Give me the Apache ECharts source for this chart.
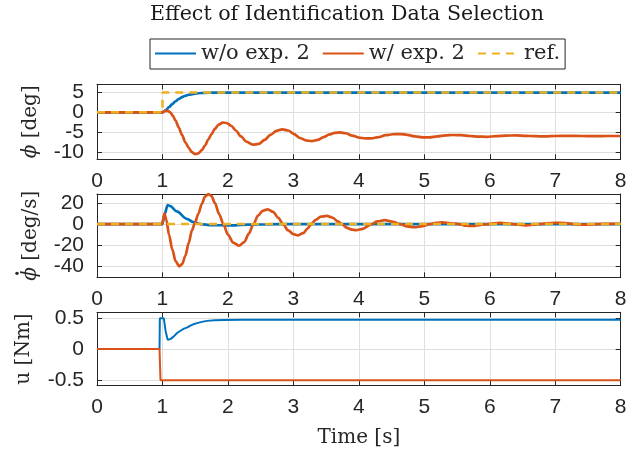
<!DOCTYPE html>
<html><head><meta charset="utf-8">
<script src="https://cdn.jsdelivr.net/npm/echarts@6/dist/echarts.min.js"></script>
<style>html,body{margin:0;padding:0;background:#fff}#c{width:631px;height:455px}</style>
</head><body><div id="c"></div>
<script>
// ---- data ----
const seriesNames = ['w/o exp. 2', 'w/ exp. 2', 'ref.'];
const xTickLabels = [0, 1, 2, 3, 4, 5, 6, 7, 8];
const phiTicks = [-10, -5, 0, 5];
const phiDotTicks = [-40, -20, 0, 20];
const uTicks = [-0.5, 0, 0.5];

// phi [deg]
const tPhiWo = [0, 1.0, 1.05, 1.1, 1.15, 1.2, 1.25, 1.3, 1.35, 1.4, 1.5, 1.6, 1.7, 1.8, 2.0, 8.0];
const phiWo  = [0, 0, 0.5, 1.3, 2.1, 2.8, 3.4, 3.85, 4.2, 4.45, 4.75, 4.9, 4.96, 4.99, 5.0, 5.0];
const tPhiW = [0, 1.0, 1.04, 1.08, 1.12, 1.16, 1.2, 1.25, 1.3, 1.35, 1.4, 1.45, 1.5, 1.55, 1.6, 1.65, 1.7, 1.75, 1.8, 1.86, 1.92, 1.98, 2.05, 2.12, 2.2, 2.28, 2.38, 2.47, 2.56, 2.65, 2.74, 2.83, 2.92, 3.01, 3.1, 3.19, 3.28, 3.37, 3.46, 3.55, 3.63, 3.71, 3.8, 3.9, 4.0, 4.1, 4.19, 4.3, 4.41, 4.52, 4.63, 4.74, 4.86, 4.98, 5.08, 5.2, 5.32, 5.44, 5.56, 5.7, 5.83, 5.95, 6.1, 6.25, 6.4, 6.55, 6.7, 6.85, 7.0, 7.2, 7.4, 7.6, 7.8, 8.0];
const phiW  = [0, 0, 0.35, 0.35, 0.0, -0.9, -2.1, -3.9, -5.8, -7.6, -9.0, -10.1, -10.6, -10.4, -9.6, -8.4, -6.9, -5.5, -4.2, -3.1, -2.6, -2.7, -3.4, -4.6, -6.1, -7.4, -8.2, -8.0, -7.0, -5.7, -4.7, -4.3, -4.6, -5.5, -6.5, -7.1, -7.3, -7.0, -6.3, -5.6, -5.2, -5.1, -5.3, -5.9, -6.4, -6.6, -6.6, -6.3, -5.8, -5.55, -5.5, -5.7, -6.1, -6.35, -6.35, -6.1, -5.85, -5.75, -5.8, -6.0, -6.15, -6.2, -6.05, -5.9, -5.85, -5.95, -6.05, -6.1, -6.0, -5.95, -6.0, -6.05, -6.0, -6.0];
const tPhiRef = [0, 1.0, 1.0, 8.0];
const phiRef  = [0, 0, 5, 5];

// phi dot [deg/s]
const tDotWo = [0, 1.0, 1.03, 1.08, 1.12, 1.22, 1.37, 1.47, 1.58, 1.75, 2.0, 2.3, 2.6, 3.0, 8.0];
const dotWo  = [0, 0, 9, 18, 17, 12, 5, 1.9, 0, -1.0, -1.2, -0.6, -0.2, 0, 0];
const tDotW = [0, 0.99, 1.01, 1.03, 1.06, 1.1, 1.15, 1.2, 1.255, 1.3, 1.35, 1.4, 1.45, 1.49, 1.55, 1.6, 1.65, 1.7, 1.75, 1.8, 1.87, 1.93, 2.0, 2.08, 2.17, 2.25, 2.32, 2.39, 2.46, 2.53, 2.61, 2.69, 2.77, 2.84, 2.92, 3.0, 3.07, 3.15, 3.22, 3.27, 3.34, 3.42, 3.51, 3.6, 3.68, 3.74, 3.82, 3.89, 3.96, 4.06, 4.18, 4.28, 4.4, 4.52, 4.63, 4.74, 4.85, 4.97, 5.08, 5.18, 5.28, 5.4, 5.53, 5.64, 5.74, 5.86, 5.98, 6.15, 6.35, 6.55, 6.75, 7.0, 7.15, 7.3, 7.45, 7.7, 8.0];
const dotW  = [0, 0, 4, 10, 4, -10, -24, -35, -40, -38, -30, -18, -6, 0, 10, 19, 26, 28.5, 26.5, 20, 9, 0, -10, -17.5, -20.5, -17, -9, 0, 8, 12.5, 14, 11.5, 6, 0, -6, -9.5, -10.6, -8.5, -4, 0, 4, 7, 7.7, 6, 2.5, 0, -3.5, -5.3, -5.8, -4.5, -0.5, 2.5, 3.8, 2.2, 0, -2.2, -3.0, -2.0, 0, 1.2, 1.6, 0.8, 0, -1.5, -1.8, -0.8, 0, 1.2, 0, -1.2, 0, 1.2, 1.0, 0, -0.6, 0.2, 0.3];
const tDotRef = [0, 8.0];
const dotRef  = [0, 0];

// u [Nm]
const tUWo = [0, 0.955, 0.96, 1.02, 1.05, 1.08, 1.12, 1.17, 1.22, 1.28, 1.33, 1.36, 1.38, 1.42, 1.47, 1.53, 1.6, 1.68, 1.8, 1.93, 2.2, 8.0];
const uWo  = [0, 0, 0.5, 0.5, 0.28, 0.15, 0.16, 0.2, 0.255, 0.3, 0.33, 0.345, 0.35, 0.375, 0.4, 0.42, 0.44, 0.456, 0.465, 0.47, 0.475, 0.475];
const tUW = [0, 0.955, 0.97, 8.0];
const uW  = [0, 0, -0.505, -0.505];

// ---- chart ----
const zip = (t, v) => t.map((x, i) => [x, v[i]]);
const C_AX = '#262626', C_GRID = '#dfdfdf';
const BLUE = '#0072BD', ORANGE = '#D95319', YELLOW = '#EDB120';
const tickFont = 'Liberation Sans';
const serif = 'DejaVu Serif';
const LBL = 20;

const grids = [
  {left: 97, right: 10.3, top: 84.3, height: 75},
  {left: 97, right: 10.3, top: 194, height: 83.3},
  {left: 97, right: 10.3, top: 312.3, height: 73.4}
];
const yRanges = [[-11.9, 7.1], [-50.4, 28.5], [-0.595, 0.595]];
const yTicks = [phiTicks, phiDotTicks, uTicks];

const xAxes = [], yAxes = [];
for (let g = 0; g < 3; g++) {
  xAxes.push({
    type: 'value', gridIndex: g, position: 'bottom', min: 0, max: 8, interval: 1,
    axisLine: {show: true, onZero: false, lineStyle: {color: C_AX, width: 1}},
    axisTick: {show: true, inside: true, length: 5, lineStyle: {color: C_AX}},
    axisLabel: {show: true, margin: 11, color: C_AX, fontSize: 21, fontFamily: tickFont,
      showMinLabel: true, showMaxLabel: true,
      formatter: v => String(xTickLabels[Math.round(v)])},
    splitLine: {show: true, lineStyle: {color: C_GRID, width: 1}},
    name: g === 2 ? 'Time [s]' : '', nameLocation: 'middle', nameGap: 42,
    nameTextStyle: {fontFamily: serif, fontSize: LBL, color: C_AX}
  });
}
for (let g = 0; g < 3; g++) {
  xAxes.push({
    type: 'value', gridIndex: g, position: 'top', min: 0, max: 8, interval: 1,
    axisLine: {show: true, onZero: false, lineStyle: {color: C_AX, width: 1}},
    axisTick: {show: true, inside: true, length: 5, lineStyle: {color: C_AX}},
    axisLabel: {show: false}, splitLine: {show: false}
  });
}
const yLabelStyle = {show: true, margin: 13, color: C_AX, fontSize: 21, fontFamily: tickFont,
  showMinLabel: true, showMaxLabel: true, formatter: v => String(v)};
// 0..2: main left axes (every other tick label), 3..5: right box axes, 6..8: left label-only axes
for (let g = 0; g < 3; g++) {
  yAxes.push({
    type: 'value', gridIndex: g, position: 'left', min: yRanges[g][0], max: yRanges[g][1],
    axisLine: {show: true, onZero: false, lineStyle: {color: C_AX, width: 1}},
    axisTick: {show: true, inside: true, length: 5, lineStyle: {color: C_AX}, customValues: yTicks[g]},
    axisLabel: Object.assign({}, yLabelStyle, {customValues: yTicks[g].filter((v, i) => i % 2 === 0)}),
    splitLine: {show: true, lineStyle: {color: C_GRID, width: 1}}
  });
}
for (let g = 0; g < 3; g++) {
  yAxes.push({
    type: 'value', gridIndex: g, position: 'right', min: yRanges[g][0], max: yRanges[g][1],
    axisLine: {show: true, onZero: false, lineStyle: {color: C_AX, width: 1}},
    axisTick: {show: true, inside: true, length: 5, lineStyle: {color: C_AX}, customValues: yTicks[g]},
    axisLabel: {show: false, customValues: yTicks[g]}, splitLine: {show: false}
  });
}
for (let g = 0; g < 3; g++) {
  yAxes.push({
    type: 'value', gridIndex: g, position: 'left', offset: 0, min: yRanges[g][0], max: yRanges[g][1],
    axisLine: {show: false},
    axisTick: {show: false, customValues: yTicks[g].filter((v, i) => i % 2 === 1)},
    axisLabel: Object.assign({}, yLabelStyle, {customValues: yTicks[g].filter((v, i) => i % 2 === 1)}),
    splitLine: {show: false}
  });
}

function line(name, g, data, color, opts) {
  return Object.assign({
    type: 'line', name: name, xAxisIndex: g, yAxisIndex: g, data: data,
    symbol: 'none', showSymbol: false, animation: false,
    lineStyle: {color: color, width: 2.7}, itemStyle: {color: color}
  }, opts || {});
}
const dashed = {lineStyle: {color: YELLOW, width: 2.5, type: [8, 6]}};

const series = [
  line(seriesNames[0], 0, zip(tPhiWo, phiWo), BLUE, {smooth: 0.3, smoothMonotone: 'x'}),
  line(seriesNames[1], 0, zip(tPhiW, phiW), ORANGE, {smooth: 0.3, smoothMonotone: 'x'}),
  line(seriesNames[2], 0, zip(tPhiRef, phiRef), YELLOW, dashed),
  line(seriesNames[0], 1, zip(tDotWo, dotWo), BLUE, {smooth: 0.3, smoothMonotone: 'x'}),
  line(seriesNames[1], 1, zip(tDotW, dotW), ORANGE, {smooth: 0.3, smoothMonotone: 'x'}),
  line(seriesNames[2], 1, zip(tDotRef, dotRef), YELLOW, dashed),
  line(seriesNames[0], 2, zip(tUWo, uWo), BLUE, {lineStyle: {color: BLUE, width: 2}}),
  line(seriesNames[1], 2, zip(tUW, uW), ORANGE, {lineStyle: {color: ORANGE, width: 2}})
];

// rotated y-axis labels (measured so the accent dot sits over the phi)
const mctx = document.createElement('canvas').getContext('2d');
function tw(txt, italic) {
  mctx.font = (italic ? 'italic ' : '') + LBL + 'px "' + serif + '"';
  return mctx.measureText(txt).width;
}
const richI = {i: {fontFamily: serif, fontSize: LBL, fontStyle: 'italic', fill: C_AX}};
function yLabel(xc, yc, txt) {
  return {type: 'text', x: xc, y: yc, rotation: Math.PI / 2, silent: true,
    style: {text: txt, fontFamily: serif, fontSize: LBL, fill: C_AX,
      align: 'center', verticalAlign: 'middle', rich: richI}};
}
const cy = grids.map(g => g.top + g.height / 2);
const wPhi = tw('\u03D5', true);
const wDot = wPhi + tw(' [deg/s]', false);
const dotY = cy[1] + wDot / 2 - wPhi / 2 - 0.5;

const chart = echarts.init(document.getElementById('c'), null, {renderer: 'canvas'});
chart.setOption({
  animation: false,
  backgroundColor: '#ffffff',
  title: {text: 'Effect of Identification Data Selection', left: 150, top: 4, padding: 0,
    textStyle: {fontFamily: serif, fontSize: 20.6, fontWeight: 'normal', color: '#1a1a1a'}},
  legend: {data: seriesNames, left: 150, top: 39, orient: 'horizontal',
    itemWidth: 41, itemHeight: 14, itemGap: 12, padding: [4, 5, 5, 4],
    itemStyle: {opacity: 0},
    borderColor: C_AX, borderWidth: 1, backgroundColor: '#fff',
    textStyle: {fontFamily: serif, fontSize: 21, color: C_AX}},
  grid: grids,
  xAxis: xAxes,
  yAxis: yAxes,
  series: series,
  graphic: [
    yLabel(31, cy[0], '{i|\u03D5} [deg]'),
    yLabel(31, cy[1], '{i|\u03D5} [deg/s]'),
    {type: 'circle', silent: true, shape: {cx: 17, cy: dotY, r: 1.7}, style: {fill: C_AX}},
    yLabel(24, cy[2], 'u [Nm]')
  ]
});
</script>
</body></html>
